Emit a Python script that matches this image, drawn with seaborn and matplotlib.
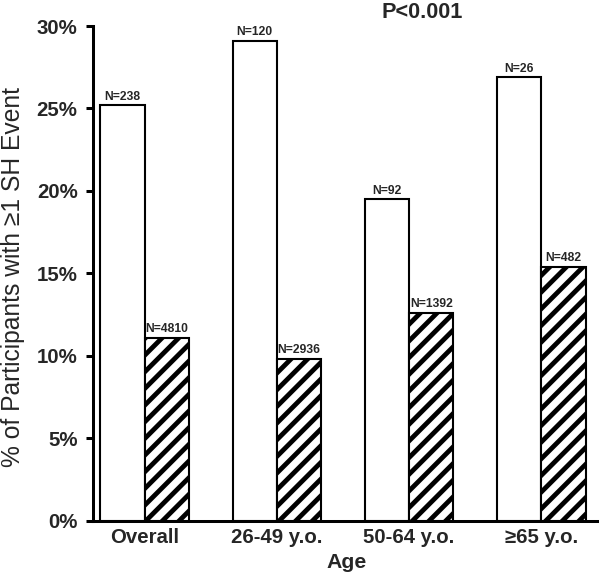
import matplotlib
matplotlib.use("Agg")
import matplotlib.pyplot as plt
import seaborn as sns
import pandas as pd

# ---- data ----
age_groups = ["Overall", "26-49 y.o.", "50-64 y.o.", "≥65 y.o."]
group_names = ["Group 1", "Group 2"]
pct_group1 = [25.2, 29.1, 19.5, 26.9]
pct_group2 = [11.1, 9.8, 12.6, 15.4]
n_group1 = ["N=238", "N=120", "N=92", "N=26"]
n_group2 = ["N=4810", "N=2936", "N=1392", "N=482"]
y_ticks = [0, 5, 10, 15, 20, 25, 30]
y_tick_labels = ["0%", "5%", "10%", "15%", "20%", "25%", "30%"]

df = pd.DataFrame({
    "Age": age_groups * 2,
    "Group": [group_names[0]] * 4 + [group_names[1]] * 4,
    "Pct": pct_group1 + pct_group2,
})

sns.set_style("ticks")
plt.rcParams["font.family"] = ["Liberation Sans", "DejaVu Sans"]
plt.rcParams["hatch.linewidth"] = 2.3
plt.rcParams["hatch.color"] = "black"

DPI = 150
fig = plt.figure(figsize=(600 / DPI, 577 / DPI), dpi=DPI)
ax = fig.add_axes([93 / 600, 1 - 520.5 / 577, (597 - 93) / 600, (520.5 - 26) / 577])

sns.barplot(data=df, x="Age", y="Pct", hue="Group", order=age_groups,
            hue_order=group_names, palette=["white", "white"], width=0.67,
            edgecolor="black", linewidth=1.0, saturation=1, legend=False, ax=ax)

for bar in ax.containers[1]:
    bar.set_hatch("///")

for cont, labels in zip(ax.containers, [n_group1, n_group2]):
    ax.bar_label(cont, labels=labels, padding=1.2, fontsize=5.8,
                 fontweight="bold")

ax.set_xlim(-0.39, 3.42)
ax.set_ylim(0, 30)
ax.set_yticks(y_ticks)
ax.set_yticklabels(y_tick_labels, fontsize=9.8, fontweight="bold")
ax.set_xticks(range(len(age_groups)))
ax.set_xticklabels(age_groups, fontsize=9.8, fontweight="bold")

sns.despine(ax=ax)
for s in ["left", "bottom"]:
    ax.spines[s].set_linewidth(1.45)
    ax.spines[s].set_color("black")
ax.tick_params(axis="y", length=3.4, width=1.45, pad=4.0, color="black")
ax.tick_params(axis="x", length=0, pad=3.5)

ax.set_ylabel("% of Participants with ≥1 SH Event", fontsize=11.8)
ax.yaxis.set_label_coords(-0.135, 0.493)
ax.set_xlabel("Age", fontsize=10.2, fontweight="bold")
ax.xaxis.set_label_coords(0.504, -0.066)

fig.text(422 / 600, 1 - 13 / 577, "P<0.001", ha="center", va="center",
         fontsize=10.4, fontweight="bold")

fig.savefig("out.png", dpi=DPI, facecolor="white")
